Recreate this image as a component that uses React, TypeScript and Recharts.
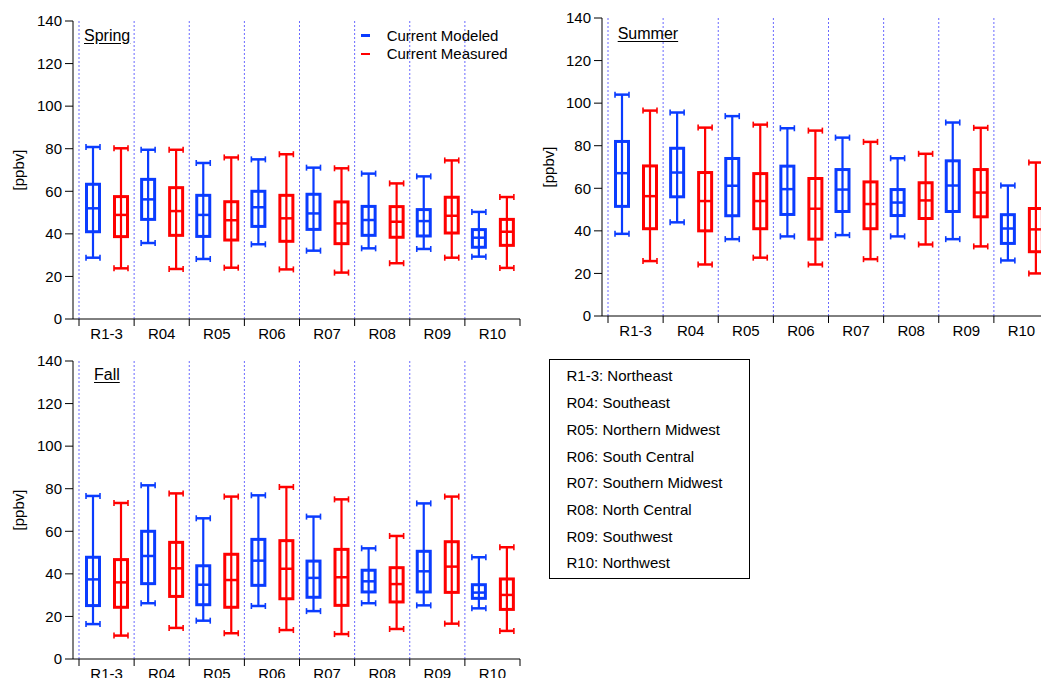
import { ComposedChart, Bar, XAxis, YAxis, CartesianGrid, Legend } from 'recharts';

// low whisker, q1, median, q3, high whisker  [ppbv]
type Stats = [number, number, number, number, number];

const regions = ['R1-3', 'R04', 'R05', 'R06', 'R07', 'R08', 'R09', 'R10'];
const regionNames = [
  'Northeast',
  'Southeast',
  'Northern Midwest',
  'South Central',
  'Southern Midwest',
  'North Central',
  'Southwest',
  'Northwest',
];
const seriesNames = ['Current Modeled', 'Current Measured'];
const yTicks = [0, 20, 40, 60, 80, 100, 120, 140];

const springModeled: Stats[] = [
  [28.8, 41, 52, 63.3, 80.8],
  [35.7, 46.8, 56.2, 65.6, 79.5],
  [28.2, 38.8, 48.9, 58.1, 73.3],
  [35.1, 43.5, 52.5, 60, 75],
  [32.1, 42.1, 49.6, 58.6, 71.1],
  [33.2, 39.3, 46.5, 52.9, 68.3],
  [32.9, 39, 46, 51.4, 67],
  [29.3, 33.7, 38.2, 42, 50.3],
];
const springMeasured: Stats[] = [
  [23.8, 38.7, 48.9, 57.5, 80.2],
  [23.5, 39.3, 50.7, 61.7, 79.5],
  [24.1, 37.1, 46.4, 55.1, 75.9],
  [23.3, 36.5, 47.3, 58.1, 77.4],
  [21.8, 35.4, 44.9, 55, 70.8],
  [26.2, 38.4, 45.7, 52.8, 63.7],
  [28.8, 40.4, 48.5, 57.2, 74.5],
  [24, 34.6, 41, 46.8, 57.3],
];
const summerModeled: Stats[] = [
  [38.6, 51.5, 67.1, 82, 104],
  [44, 56, 67.4, 78.8, 95.6],
  [36.1, 47.1, 61.2, 74, 93.9],
  [37.4, 47.7, 59.6, 70.4, 88.2],
  [38, 49.1, 59.4, 68.8, 83.8],
  [37.4, 47.2, 53.3, 59.4, 74.1],
  [36.1, 49.1, 61.3, 72.9, 90.9],
  [26.1, 34.1, 41.1, 47.6, 61.3],
];
const summerMeasured: Stats[] = [
  [25.8, 41, 56.3, 70.5, 96.5],
  [24.2, 40, 54, 67.4, 88.5],
  [27.4, 41, 54, 66.9, 89.9],
  [24.2, 36.1, 50.4, 64.6, 87.1],
  [26.7, 41, 52.6, 63, 81.8],
  [33.6, 45.8, 54.3, 62.6, 76.2],
  [32.7, 46.6, 58, 68.8, 88.4],
  [20, 30.2, 40.7, 50.5, 72.1],
];
const fallModeled: Stats[] = [
  [16.4, 25.1, 37.4, 47.8, 76.6],
  [26.2, 35.4, 48.4, 60, 81.6],
  [18, 25.5, 34.9, 43.8, 66.1],
  [24.9, 34.6, 46.2, 56.2, 76.9],
  [22.5, 29, 38.1, 46, 66.9],
  [26.2, 31.5, 36.5, 41.7, 52],
  [25.2, 31.5, 41.2, 50.6, 73.1],
  [23.8, 28.5, 31.2, 34.9, 47.8],
];
const fallMeasured: Stats[] = [
  [11, 24.3, 36, 46.7, 73.3],
  [14.6, 29.4, 42.6, 54.8, 77.8],
  [12.1, 24.3, 37.1, 49.2, 76.3],
  [13.6, 28.3, 42.4, 55.6, 80.8],
  [11.7, 25.2, 38.4, 51.5, 75],
  [14.1, 26.8, 35.2, 42.9, 57.8],
  [16.6, 31.3, 43.4, 55.1, 76.3],
  [13.2, 23.3, 30.1, 37.6, 52.5],
];

const BLUE = '#0a3cff';
const RED = '#ff0000';
const FONT = '"Liberation Sans", Arial, Helvetica, sans-serif';

function buildRows(modeled: Stats[], measured: Stats[]) {
  return regions.map((region, i) => ({
    region,
    modeled: modeled[i],
    measured: measured[i],
    modeledRange: [modeled[i][0], modeled[i][4]],
    measuredRange: [measured[i][0], measured[i][4]],
  }));
}

// box + whiskers drawn inside the range bar (low..high) that recharts positions
function boxShape(key: 'modeled' | 'measured', color: string) {
  return (props: any) => {
    const { x, y, width, height, payload } = props;
    const [lo, q1, med, q3, hi] = payload[key] as Stats;
    const top = Math.min(y, y + height);
    const h = Math.abs(height);
    const py = (v: number) => top + (h * (hi - v)) / (hi - lo);
    const cx = x + width / 2;
    const bw = 6.5;
    const cw = 7;
    return (
      <g stroke={color} fill="none">
        <line x1={cx} x2={cx} y1={py(hi)} y2={py(lo)} strokeWidth={2.2} />
        {[hi, lo].map((v) => (
          <g key={v}>
            <line x1={cx - cw} x2={cx + cw} y1={py(v)} y2={py(v)} strokeWidth={2.5} />
            <line x1={cx - cw} x2={cx - cw} y1={py(v) - 3} y2={py(v) + 3} strokeWidth={1.6} />
            <line x1={cx + cw} x2={cx + cw} y1={py(v) - 3} y2={py(v) + 3} strokeWidth={1.6} />
          </g>
        ))}
        <rect x={cx - bw} y={py(q3)} width={bw * 2} height={py(q1) - py(q3)} strokeWidth={3} />
        <line x1={cx - bw} x2={cx + bw} y1={py(med)} y2={py(med)} strokeWidth={2.5} />
      </g>
    );
  };
}

const TICK_SIZE = 7;
const TICK_MARGIN = 2;

function RegionTick(props: any) {
  const { x, y, payload, index } = props;
  const half = payload?.offset ?? 0;
  const axisY = y - TICK_SIZE - TICK_MARGIN;
  const edges = [x - half];
  if (index === regions.length - 1) edges.push(x + half);
  return (
    <g>
      {edges.map((ex) => (
        <line key={ex} x1={ex} x2={ex} y1={axisY} y2={axisY + TICK_SIZE} stroke="#000" />
      ))}
      <text x={x} y={y} dy="0.71em" textAnchor="middle" fontSize={15} fill="#000">
        {payload.value}
      </text>
    </g>
  );
}

// dotted separators at the left edge of every category band
const boundaryLines = ({ xAxis }: any) => {
  try {
    const scale = xAxis?.scale;
    if (!scale || typeof scale.bandwidth !== 'function') return [];
    const bw = scale.bandwidth();
    const toPx = (v: string) =>
      typeof scale === 'function' ? scale(v) : typeof scale.map === 'function' ? scale.map(v) : undefined;
    const first = toPx(regions[0]);
    if (typeof first === 'number' && !Number.isNaN(first)) {
      return regions.map((r) => toPx(r) as number);
    }
    const range = typeof scale.range === 'function' ? scale.range() : null;
    if (!range) return [];
    const start = Math.min(range[0], range[1]);
    return regions.map((_, i) => start + i * bw);
  } catch {
    return [];
  }
};

const renderLegend = (props: any) => {
  const items = [...(props.payload ?? [])].sort(
    (a: any, b: any) => seriesNames.indexOf(a.value) - seriesNames.indexOf(b.value),
  );
  return (
    <div style={{ fontSize: 15, fontFamily: FONT }}>
      {items.map((entry: any) => (
        <div key={entry.value} style={{ display: 'flex', alignItems: 'center', height: 18.3 }}>
          <span
            style={{
              display: 'inline-block',
              width: 9,
              height: 2.5,
              background: entry.color,
              marginLeft: 3,
              marginRight: 16.7,
            }}
          />
          <span>{entry.value}</span>
        </div>
      ))}
    </div>
  );
};

type ChartProps = {
  rows: ReturnType<typeof buildRows>;
  width: number;
  height: number;
  top: number;
  yAxisWidth: number;
  showLegend?: boolean;
};

function SeasonChart({ rows, width, height, top, yAxisWidth, showLegend }: ChartProps) {
  return (
    <ComposedChart
      width={width}
      height={height}
      data={rows}
      margin={{ top, right: 6, bottom: 0, left: 0 }}
      barCategoryGap={0}
      barGap={0}
    >
      <CartesianGrid
        horizontal={false}
        stroke="#6a6aff"
        strokeDasharray="2 2"
        verticalCoordinatesGenerator={boundaryLines}
      />
      <XAxis
        dataKey="region"
        padding={{ left: 6, right: 0 }}
        height={345 - 21 - 298}
        axisLine={{ stroke: '#000' }}
        tickLine={false}
        tickSize={TICK_SIZE}
        tickMargin={TICK_MARGIN}
        interval={0}
        tick={(p: any) => <RegionTick {...p} />}
      />
      <XAxis
        xAxisId="top"
        orientation="top"
        dataKey="region"
        height={0}
        tick={false}
        tickLine={false}
        axisLine={{ stroke: '#000' }}
      />
      <YAxis
        domain={[0, 140]}
        ticks={yTicks}
        interval={0}
        width={yAxisWidth}
        tickSize={8}
        tickMargin={3}
        axisLine={{ stroke: '#000' }}
        tickLine={{ stroke: '#000' }}
        tick={{ fontSize: 15, fill: '#000' }}
        label={{
          content: ({ viewBox }: any) => {
            const lx = (viewBox?.x ?? 0) + 18;
            const ly = (viewBox?.y ?? 0) + (viewBox?.height ?? 0) / 2;
            return (
              <text
                x={lx}
                y={ly}
                transform={`rotate(-90, ${lx}, ${ly})`}
                textAnchor="middle"
                dominantBaseline="central"
                fontSize={15}
                fill="#000"
              >
                [ppbv]
              </text>
            );
          },
        }}
      />
      <YAxis
        yAxisId="right"
        orientation="right"
        domain={[0, 140]}
        width={0}
        tick={false}
        tickLine={false}
        axisLine={{ stroke: '#000' }}
      />
      {showLegend && (
        <Legend
          layout="horizontal"
          verticalAlign="middle"
          align="center"
          wrapperStyle={{ left: 358, top: 26.5, width: 170 }}
          content={renderLegend}
        />
      )}
      <Bar
        dataKey="modeledRange"
        name={seriesNames[0]}
        fill={BLUE}
        isAnimationActive={false}
        shape={boxShape('modeled', BLUE)}
      />
      <Bar
        dataKey="measuredRange"
        name={seriesNames[1]}
        fill={RED}
        isAnimationActive={false}
        shape={boxShape('measured', RED)}
      />
    </ComposedChart>
  );
}

const seasonLabel = (text: string, left: number, top: number) => (
  <div
    style={{
      position: 'absolute',
      left,
      top,
      fontSize: 16,
      lineHeight: '18px',
      textDecoration: 'underline',
      textUnderlineOffset: 2,
    }}
  >
    {text}
  </div>
);

export default function App() {
  return (
    <div
      style={{
        position: 'fixed',
        left: 0,
        top: 0,
        width: 1041,
        height: 678,
        overflow: 'hidden',
        background: '#fff',
        fontFamily: FONT,
        color: '#000',
      }}
    >
      <div style={{ position: 'absolute', left: 0, top: 0 }}>
        <SeasonChart rows={buildRows(springModeled, springMeasured)} width={526} height={345} top={21} yAxisWidth={73} showLegend />
      </div>
      <div style={{ position: 'absolute', left: 530, top: 0 }}>
        <SeasonChart rows={buildRows(summerModeled, summerMeasured)} width={525} height={342} top={18} yAxisWidth={72} />
      </div>
      <div style={{ position: 'absolute', left: 0, top: 340 }}>
        <SeasonChart rows={buildRows(fallModeled, fallMeasured)} width={526} height={345} top={21} yAxisWidth={73} />
      </div>
      {seasonLabel('Spring', 84, 26.5)}
      {seasonLabel('Summer', 617.7, 25)}
      {seasonLabel('Fall', 94, 366)}
      <div
        style={{
          position: 'absolute',
          left: 549,
          top: 359,
          width: 201,
          height: 220,
          boxSizing: 'border-box',
          border: '1px solid #000',
          padding: '3.4px 0 0 16.5px',
          fontSize: 15,
          lineHeight: '26.7px',
        }}
      >
        {regions.map((r, i) => (
          <div key={r}>
            {r}: {regionNames[i]}
          </div>
        ))}
      </div>
    </div>
  );
}
